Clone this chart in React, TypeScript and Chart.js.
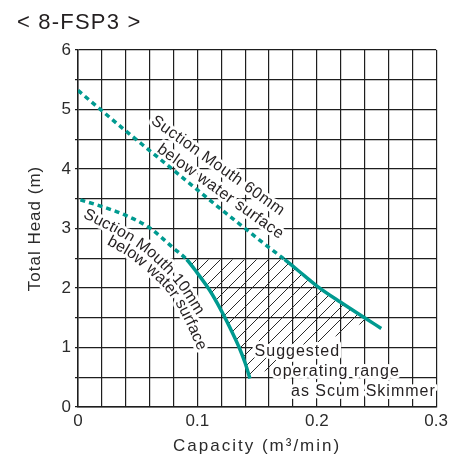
import React, { useEffect, useRef } from 'react';
import { Chart, registerables } from 'chart.js';

Chart.register(...registerables);

// ---- text ----
const chartTitle = '< 8-FSP3 >';
const xAxisTitle = 'Capacity (m³/min)';
const yAxisTitle = 'Total Head (m)';

// ---- axes ----
const xMin = 0;
const xMax = 0.3;
const xGridStep = 0.02;
const xLabelStep = 0.1;
const yMin = 0;
const yMax = 6;
const yGridStep = 0.5;
const yLabelStep = 1;

// ---- curve: suction mouth 60mm below water surface ----
const capacity60 = [0, 0.02, 0.04, 0.06, 0.08, 0.1, 0.12, 0.14, 0.16, 0.173, 0.19, 0.201, 0.22, 0.24, 0.254];
const head60 = [5.32, 4.98, 4.64, 4.31, 3.98, 3.65, 3.32, 3.0, 2.68, 2.48, 2.2, 2.02, 1.76, 1.5, 1.32];
const dashedEnd60 = 9; // last index of the dashed part

// ---- curve: suction mouth 10mm below water surface ----
const capacity10 = [0.002, 0.02, 0.04, 0.06, 0.08, 0.091, 0.1, 0.11, 0.12, 0.13, 0.135, 0.14, 0.144];
const head10 = [3.48, 3.37, 3.22, 3.01, 2.67, 2.48, 2.25, 1.97, 1.62, 1.22, 1.0, 0.74, 0.48];
const dashedEnd10 = 5;

// ---- suggested operating range (hatched area outline) ----
const rangeCapacity = [0.091, 0.173, 0.19, 0.201, 0.22, 0.243, 0.144, 0.14, 0.135, 0.13, 0.12, 0.11, 0.1];
const rangeHead = [2.48, 2.48, 2.2, 2.02, 1.76, 1.46, 0.48, 0.74, 1.0, 1.22, 1.62, 1.97, 2.25];

// ---- annotation texts and anchors (data coordinates) ----
const label60Lines = ['Suction Mouth 60mm', 'below water surface'];
const label60Capacity = [0.1172, 0.1193];
const label60Head = [4.054, 3.618];
const label60AngleDeg = 35.6;

const label10Lines = ['Suction Mouth 10mm', 'below water surface'];
const label10PathCapacity = [
  [0.0067, 0.0267, 0.0434, 0.0602, 0.0769, 0.0894, 0.1019],
  [0.0251, 0.0434, 0.0602, 0.0752, 0.0869, 0.0952, 0.1044],
];
const label10PathHead = [
  [3.244, 3.042, 2.857, 2.622, 2.303, 2.0, 1.597],
  [2.807, 2.605, 2.336, 2.05, 1.714, 1.378, 0.958],
];

const rangeLines = ['Suggested', 'operating range', 'as Scum Skimmer'];
const rangeLabelCapacity = [0.1479, 0.1631, 0.1784];
const rangeLabelHead = [0.929, 0.593, 0.257];

// ---- styles ----
const FONT = '"Liberation Sans", Arial, Helvetica, sans-serif';
const TEAL = '#009a90';
const INK = '#231f20';
const GRID = '#1e1e1e';
const HALO = '#ffffff';
const HATCH_INDEX = 2;

function drawPathText(ctx: CanvasRenderingContext2D, text: string, pts: number[][], spacing: number) {
  const cum = [0];
  for (let i = 1; i < pts.length; i++) {
    cum.push(cum[i - 1] + Math.hypot(pts[i][0] - pts[i - 1][0], pts[i][1] - pts[i - 1][1]));
  }
  const L = cum[cum.length - 1];
  const at = (d: number) => {
    d = Math.max(0, Math.min(L, d));
    let i = 1;
    while (i < pts.length - 1 && cum[i] < d) i++;
    const t = (d - cum[i - 1]) / (cum[i] - cum[i - 1] || 1);
    return [pts[i - 1][0] + t * (pts[i][0] - pts[i - 1][0]), pts[i - 1][1] + t * (pts[i][1] - pts[i - 1][1])];
  };
  const chars = [...text];
  const widths = chars.map((c) => ctx.measureText(c).width + spacing);
  const W = widths.reduce((a, b) => a + b, 0) - spacing;
  let s = (L - W) / 2;
  const glyphs: { c: string; x: number; y: number; a: number }[] = [];
  chars.forEach((c, k) => {
    const mid = s + (widths[k] - spacing) / 2;
    const p = at(mid);
    const p0 = at(mid - 5);
    const p1 = at(mid + 5);
    glyphs.push({ c, x: p[0], y: p[1], a: Math.atan2(p1[1] - p0[1], p1[0] - p0[0]) });
    s += widths[k];
  });
  for (const pass of [0, 1]) {
    for (const g of glyphs) {
      ctx.save();
      ctx.translate(g.x, g.y);
      ctx.rotate(g.a);
      if (pass === 0) ctx.strokeText(g.c, 0, 0);
      else ctx.fillText(g.c, 0, 0);
      ctx.restore();
    }
  }
}

function haloText(ctx: CanvasRenderingContext2D, text: string, x: number, y: number, angle: number) {
  ctx.save();
  ctx.translate(x, y);
  ctx.rotate(angle);
  ctx.strokeText(text, 0, 0);
  ctx.fillText(text, 0, 0);
  ctx.restore();
}

const annotatePlugin = {
  id: 'annotate',
  afterLayout(chart: any) {
    const spacingFor: Record<string, string> = { x: '2px', y: '1px' };
    for (const id of ['x', 'y']) {
      const sc = chart.scales[id];
      if (!sc || sc.__patched) continue;
      const orig = sc.drawTitle.bind(sc);
      sc.drawTitle = (...a: any[]) => {
        const c = sc.ctx as any;
        const prev = c.letterSpacing;
        c.letterSpacing = spacingFor[id];
        orig(...a);
        c.letterSpacing = prev || '0px';
      };
      sc.__patched = true;
    }
  },
  afterDatasetDraw(chart: any, args: any) {
    if (args.index !== HATCH_INDEX) return;
    const ctx: any = chart.ctx;
    const xs = chart.scales.x;
    const ys = chart.scales.y;
    ctx.save();
    ctx.font = `16px ${FONT}`;
    ctx.fillStyle = INK;
    ctx.strokeStyle = HALO;
    ctx.lineWidth = 6;
    ctx.lineJoin = 'round';
    ctx.textBaseline = 'middle';

    // 60 mm label (straight, rotated)
    ctx.textAlign = 'center';
    ctx.letterSpacing = '0.5px';
    label60Lines.forEach((t, i) => {
      haloText(ctx, t, xs.getPixelForValue(label60Capacity[i]), ys.getPixelForValue(label60Head[i]), (label60AngleDeg * Math.PI) / 180);
    });

    // 10 mm label (follows the curve)
    ctx.letterSpacing = '0px';
    label10Lines.forEach((t, i) => {
      const pts = label10PathCapacity[i].map((cx, k) => [xs.getPixelForValue(cx), ys.getPixelForValue(label10PathHead[i][k])]);
      drawPathText(ctx, t, pts, 0.3);
    });

    // operating range label
    ctx.textAlign = 'left';
    ctx.letterSpacing = '1px';
    rangeLines.forEach((t, i) => {
      haloText(ctx, t, xs.getPixelForValue(rangeLabelCapacity[i]), ys.getPixelForValue(rangeLabelHead[i]), 0);
    });
    ctx.restore();
  },
  afterDraw(chart: any) {
    const ctx: any = chart.ctx;
    ctx.save();
    ctx.font = `22px ${FONT}`;
    ctx.fillStyle = INK;
    ctx.textAlign = 'left';
    ctx.textBaseline = 'alphabetic';
    ctx.letterSpacing = '1.2px';
    ctx.fillText(chartTitle, 17, 29);
    ctx.restore();
  },
};

function toPoints(xs: number[], ys: number[]) {
  return xs.map((x, i) => ({ x, y: ys[i] }));
}

export default function App() {
  const ref = useRef<HTMLCanvasElement>(null);

  useEffect(() => {
    const canvas = ref.current!;
    const tile = document.createElement('canvas');
    const T = 12;
    tile.width = T;
    tile.height = T;
    const tc = tile.getContext('2d')!;
    tc.strokeStyle = '#2a2a2a';
    tc.lineWidth = 1;
    tc.beginPath();
    tc.moveTo(0, T);
    tc.lineTo(T, 0);
    tc.moveTo(-3, 3);
    tc.lineTo(3, -3);
    tc.moveTo(T - 3, T + 3);
    tc.lineTo(T + 3, T - 3);
    tc.stroke();
    const hatch = canvas.getContext('2d')!.createPattern(tile, 'repeat');

    const chart = new Chart(canvas, {
      type: 'line',
      data: {
        datasets: [
          {
            label: 'Suction Mouth 60mm below water surface',
            data: toPoints(capacity60, head60),
            borderColor: TEAL,
            borderWidth: 3.5,
            borderCapStyle: 'butt',
            pointRadius: 0,
            fill: false,
            cubicInterpolationMode: 'monotone',
            segment: {
              borderDash: (c: any) => (c.p1DataIndex <= dashedEnd60 ? [5, 4] : undefined),
            },
          },
          {
            label: 'Suction Mouth 10mm below water surface',
            data: toPoints(capacity10, head10),
            borderColor: TEAL,
            borderWidth: 3.5,
            borderCapStyle: 'butt',
            pointRadius: 0,
            fill: false,
            cubicInterpolationMode: 'monotone',
            segment: {
              borderDash: (c: any) => (c.p1DataIndex <= dashedEnd10 ? [5, 4] : undefined),
            },
          },
          {
            label: 'Suggested operating range as Scum Skimmer',
            data: toPoints(rangeCapacity, rangeHead),
            borderWidth: 0,
            borderColor: 'rgba(0,0,0,0)',
            backgroundColor: hatch as any,
            pointRadius: 0,
            tension: 0,
            fill: 'shape',
          },
        ],
      },
      options: {
        responsive: false,
        animation: false,
        events: [],
        layout: { padding: { top: 50, right: 15, bottom: 0, left: 0 } },
        plugins: {
          legend: { display: false },
          tooltip: { enabled: false },
          title: { display: false },
        },
        scales: {
          x: {
            type: 'linear',
            min: xMin,
            max: xMax,
            afterFit: (s: any) => {
              s.height = 50;
            },
            grid: { color: GRID, lineWidth: 1.2, drawTicks: false },
            border: { color: GRID, width: 1.5 },
            ticks: {
              stepSize: xGridStep,
              autoSkip: false,
              maxRotation: 0,
              padding: 4,
              color: '#2b2b2b',
              font: { family: FONT, size: 17 },
              callback: (v: any) => {
                const r = Math.round(Number(v) * 1000);
                const step = Math.round(xLabelStep * 1000);
                return r % step === 0 ? String(r / 1000) : '';
              },
            },
            title: {
              display: true,
              text: xAxisTitle,
              color: '#2b2b2b',
              font: { family: FONT, size: 17 },
              padding: { top: 0, bottom: 0 },
            },
          },
          y: {
            type: 'linear',
            min: yMin,
            max: yMax,
            afterFit: (s: any) => {
              s.width = 78;
            },
            grid: { color: GRID, lineWidth: 1.2, drawTicks: true, tickLength: 3, tickColor: GRID },
            border: { color: GRID, width: 1.5 },
            ticks: {
              stepSize: yGridStep,
              autoSkip: false,
              padding: 4,
              color: '#2b2b2b',
              font: { family: FONT, size: 17 },
              callback: (v: any) => {
                const n = Number(v);
                return Math.abs(n / yLabelStep - Math.round(n / yLabelStep)) < 1e-6 ? String(Math.round(n)) : '';
              },
            },
            title: {
              display: true,
              text: yAxisTitle,
              color: '#2b2b2b',
              font: { family: FONT, size: 17 },
              padding: { top: 25, bottom: 0 },
            },
          },
        },
      } as any,
      plugins: [annotatePlugin as any],
    });
    return () => chart.destroy();
  }, []);

  return (
    <div style={{ position: 'fixed', left: 0, top: 0, width: 452, height: 457, background: '#fff' }}>
      <canvas ref={ref} width={452} height={457} style={{ display: 'block', width: 452, height: 457 }} />
    </div>
  );
}
